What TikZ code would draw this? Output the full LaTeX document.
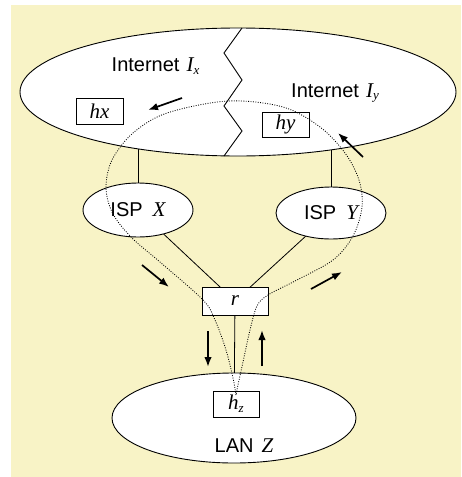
\documentclass[tikz,border=0pt]{standalone}
\usepackage{fontspec}
\setmainfont{Liberation Sans}
\newfontfamily\tms{Liberation Serif}
\usetikzlibrary{shapes.geometric,arrows.meta}
\definecolor{bgyel}{RGB}{248,243,198}
\newcommand{\mi}[1]{{\fontsize{21}{22}\selectfont\tms\itshape #1}}
\newcommand{\msub}[1]{\raisebox{-0.25ex}{\fontsize{13}{13}\selectfont\tms\itshape #1}}
\pgfdeclarelayer{back}
\pgfdeclarelayer{lines}
\pgfsetlayers{back,lines,main}
\begin{document}
\begin{tikzpicture}[x=1pt,y=-1pt,
  cloudnode/.style={ellipse, draw, fill=white, line width=0.9pt, inner sep=0pt, outer sep=0pt},
  hostbox/.style={rectangle, draw, fill=white, line width=0.9pt, inner sep=0pt, outer sep=0pt},
  lbl/.style={inner sep=0pt, font=\fontsize{20}{22}\selectfont},
  link/.style={line width=0.8pt},
  flow/.style={line width=1.7pt, -{Latex[length=10pt,width=7.5pt]}},
  route/.style={line width=0.85pt, dash pattern=on 0.9pt off 1.5pt}]
\useasboundingbox (0,0) rectangle (461,477);
\begin{pgfonlayer}{back}
\fill[bgyel] (11,5) rectangle (461,477);
\end{pgfonlayer}

% clouds and boxes
\node[cloudnode, minimum width=436pt, minimum height=128pt] (inet) at (238,92) {};
\node[cloudnode, minimum width=110pt, minimum height=54pt, lbl] (ispx) at (138,210) {ISP\hspace{0.5em}\mi{X}};
\node[cloudnode, minimum width=110pt, minimum height=52pt, lbl] (ispy) at (331,213) {ISP\hspace{0.5em}\mi{Y}};
\node[cloudnode, minimum width=244pt, minimum height=90pt] (lan) at (234,418) {};
\node[hostbox, minimum width=66pt, minimum height=28pt, lbl] (r) at (235,301) {\mi{r}};
\node[hostbox, minimum width=47pt, minimum height=26pt, lbl] (hx) at (99.5,111) {\mi{hx}};
\node[hostbox, minimum width=47pt, minimum height=25pt, lbl] (hy) at (285.5,124.5) {\mi{hy}};
\node[hostbox, minimum width=46pt, minimum height=26pt, lbl] (hz) at (236,404) {\mi{h}\msub{z}};

% zigzag border between the two internets
\draw[line width=0.9pt] (242,28) -- (224,53) -- (242,80) -- (224,106) -- (242,131) -- (224,156);

% labels
\node[lbl] (lix) at (155.5,66) {Internet\hspace{0.35em}\mi{I}\msub{x}};
\node[lbl] (liy) at (335,93) {Internet\hspace{0.35em}\mi{I}\msub{y}};
\node[lbl] (llan) at (244,446) {LAN\hspace{0.4em}\mi{Z}};

% links (behind the nodes)
\begin{pgfonlayer}{lines}
\draw[link] (ispx.center) -- (ispx.center |- inet.center);
\draw[link] (ispy.center) -- (ispy.center |- inet.center);
\draw[link] (ispx.center) -- (r.center);
\draw[link] (ispy.center) -- (r.center);
\draw[link] (r.center) -- (lan.center);
\end{pgfonlayer}

% dotted route
\draw[route] plot[smooth, tension=0.55] coordinates {
 (236,395) (233,378) (226,350) (215,320) (203,300) (160,262) (132,238)
 (113,214) (106,188) (112,160) (133,133) (167,113) (228,101) (283,107)
 (320,127) (345,153) (359,180) (362,207) (353,236) (333,260) (295,281)
 (268,295) (257,306) (250,330) (243,362) (238,385) (236,395)};

% flow arrows
\draw[flow] (182,98) -- (148,110);
\draw[flow] (363,157) -- (338,133);
\draw[flow] (142,265) -- (169,287);
\draw[flow] (311,289) -- (342,272);
\draw[flow] (208,331) -- (208,367);
\draw[flow] (262,366) -- (262,330);
\end{tikzpicture}
\end{document}
